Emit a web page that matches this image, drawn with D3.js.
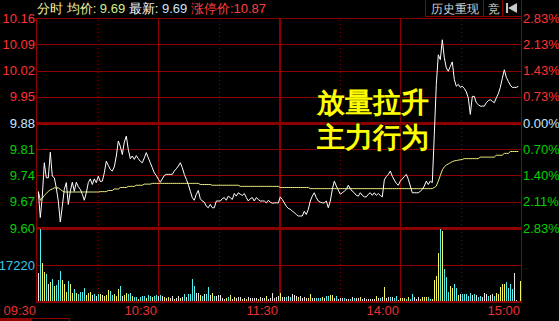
<!DOCTYPE html>
<html><head><meta charset="utf-8">
<script src="https://cdn.jsdelivr.net/npm/d3@7/dist/d3.min.js"></script>
<style>
html,body{margin:0;padding:0;background:#000;overflow:hidden;}
svg{display:block;}
text{font-family:Arial,"Liberation Sans",sans-serif;}
</style></head><body>
<svg id="c" width="559" height="321"></svg>
<script>
// ---------- data ----------
const priceTicks = [10.16,10.09,10.02,9.95,9.88,9.81,9.74,9.67,9.60];
const priceTickLabels = ["10.16","10.09","10.02","9.95","9.88","9.81","9.74","9.67","9.60"];
const pctTickLabels = ["2.83%","2.13%","1.43%","0.73%","0.00%","0.70%","1.40%","2.11%","2.83%"];
const timeTicks = [0,60,120,180,240];
const timeLabels = ["09:30","10:30","11:30","14:00","15:00"];
const solidMinutes = [60,120,180];
const dottedMinutes = [30,90,150,210];
const volTick = 17220;
const volTickLabel = "17220";
const preClose = 9.88;
const header = {label:"分时", avgLabel:"均价:", avg:"9.69", lastLabel:"最新:", last:"9.69", limitLabel:"涨停价:", limit:"10.87"};
const buttons = ["历史重现","竞"];
const annotation = ["放量拉升","主力行为"];

const prices = [
9.696,9.628,9.685,9.774,9.734,9.734,9.802,9.738,9.734,9.707,
9.672,9.616,9.658,9.703,9.721,9.663,9.698,9.722,9.698,9.722,
9.710,9.703,9.690,9.674,9.694,9.721,9.731,9.716,9.731,9.721,
9.738,9.724,9.725,9.747,9.778,9.767,9.756,9.752,9.763,9.792,
9.832,9.818,9.796,9.829,9.845,9.809,9.785,9.792,9.783,9.793,
9.785,9.778,9.774,9.787,9.801,9.787,9.774,9.761,9.747,9.740,
9.730,9.722,9.731,9.740,9.743,9.743,9.743,9.743,9.752,9.758,
9.765,9.774,9.761,9.743,9.730,9.716,9.698,9.681,9.674,9.690,
9.700,9.678,9.672,9.669,9.658,9.654,9.663,9.654,9.654,9.672,
9.672,9.672,9.678,9.681,9.674,9.685,9.681,9.676,9.692,9.685,
9.694,9.690,9.687,9.692,9.681,9.672,9.678,9.681,9.672,9.681,
9.676,9.672,9.672,9.672,9.667,9.674,9.669,9.666,9.667,9.667,
9.667,9.683,9.676,9.667,9.658,9.652,9.650,9.645,9.641,9.636,
9.632,9.632,9.632,9.645,9.636,9.650,9.672,9.685,9.694,9.681,
9.672,9.669,9.667,9.667,9.672,9.654,9.672,9.703,9.725,9.712,
9.701,9.690,9.694,9.698,9.703,9.714,9.705,9.698,9.694,9.687,
9.685,9.694,9.687,9.683,9.683,9.690,9.694,9.687,9.694,9.687,
9.692,9.687,9.683,9.728,9.737,9.743,9.752,9.738,9.728,9.719,
9.714,9.725,9.731,9.737,9.743,9.730,9.712,9.694,9.694,9.694,
9.694,9.698,9.703,9.712,9.725,9.716,9.725,9.721,9.849,9.983,
10.062,10.049,10.102,10.054,10.027,10.018,10.031,10.043,9.996,9.978,
9.983,9.975,9.978,9.972,9.963,9.947,9.903,9.951,9.951,9.934,
9.929,9.925,9.925,9.925,9.934,9.940,9.942,9.938,9.934,9.947,
9.958,9.975,9.999,10.022,10.002,9.991,9.981,9.975,9.975,9.975,
9.978];

const avgPrices = [
9.698,9.674,9.679,9.687,9.692,9.698,9.702,9.704,9.707,9.707,
9.707,9.703,9.699,9.696,9.696,9.696,9.696,9.696,9.696,9.696,
9.696,9.696,9.696,9.696,9.696,9.696,9.696,9.696,9.696,9.696,
9.696,9.697,9.697,9.697,9.697,9.700,9.700,9.700,9.704,9.704,
9.704,9.708,9.708,9.708,9.708,9.711,9.711,9.711,9.711,9.714,
9.714,9.714,9.714,9.717,9.717,9.717,9.717,9.719,9.719,9.719,
9.719,9.719,9.719,9.719,9.719,9.719,9.719,9.719,9.719,9.719,
9.719,9.719,9.719,9.719,9.719,9.719,9.719,9.719,9.719,9.719,
9.719,9.716,9.716,9.716,9.716,9.716,9.716,9.714,9.714,9.714,
9.714,9.714,9.714,9.714,9.714,9.714,9.714,9.714,9.714,9.714,
9.714,9.711,9.711,9.711,9.711,9.711,9.711,9.711,9.711,9.711,
9.711,9.711,9.711,9.711,9.711,9.711,9.711,9.711,9.711,9.711,
9.711,9.708,9.708,9.708,9.708,9.708,9.708,9.708,9.708,9.708,
9.708,9.708,9.708,9.708,9.708,9.708,9.705,9.705,9.705,9.705,
9.705,9.705,9.705,9.705,9.705,9.705,9.705,9.705,9.705,9.705,
9.705,9.705,9.705,9.705,9.705,9.705,9.705,9.705,9.705,9.705,
9.705,9.705,9.705,9.705,9.705,9.705,9.705,9.705,9.705,9.705,
9.705,9.705,9.705,9.705,9.705,9.705,9.705,9.705,9.705,9.705,
9.705,9.705,9.705,9.705,9.705,9.705,9.705,9.705,9.705,9.705,
9.705,9.705,9.705,9.705,9.705,9.705,9.705,9.705,9.708,9.712,
9.725,9.740,9.755,9.763,9.768,9.771,9.774,9.777,9.779,9.780,
9.781,9.782,9.783,9.785,9.785,9.785,9.785,9.785,9.785,9.785,
9.785,9.789,9.789,9.789,9.789,9.789,9.789,9.789,9.789,9.794,
9.794,9.794,9.794,9.799,9.799,9.799,9.804,9.804,9.804,9.804,
9.804];

const volumes = [
13390,34440,18180,13870,12910,8130,9090,10520,7010,7650,
10040,14350,10040,8130,4300,9570,8130,3830,5740,3830,
3350,4300,4300,6220,2870,3830,4300,2870,3350,2390,
3350,3350,2870,2390,2870,5260,4780,2870,3350,2390,
5740,7170,2390,2870,3830,3350,3830,2390,1910,1910,
960,1910,2390,2390,1430,2870,2390,1910,2390,2870,
2390,2870,2390,1910,1430,1910,1430,2390,960,1430,
2390,1430,1910,3350,1910,3350,3350,10520,7170,3830,
3830,2870,2390,3350,3350,6700,2870,3830,2390,2390,
2870,2870,1430,960,1430,1910,2870,960,1910,1430,
1910,1910,960,1430,960,1910,1430,1430,1430,1430,
960,1910,1430,1430,2390,960,1430,3830,1430,1910,
2390,3830,1910,1910,1910,2390,1910,3350,2870,2390,
1910,2390,1430,1910,1430,1430,3350,1430,1430,1430,
1430,1430,1910,1430,2390,2390,2870,2870,1430,2390,
960,1430,1430,1430,960,960,960,1910,1430,1430,
1430,1910,960,1430,960,960,960,960,960,2390,
1430,1430,1910,6700,1430,1910,1910,1910,1430,2390,
480,1430,1430,1430,960,1910,960,3350,1910,960,
1910,960,1910,1910,1910,1910,960,960,10040,11960,
22960,34440,33480,15310,11480,4300,7170,6220,8130,6220,
2870,3350,3350,3350,3350,2390,3830,2870,3350,2870,
1910,2390,1910,3830,3350,2390,2870,3350,2390,3830,
3350,6700,8130,8130,9090,6220,8130,5740,13390,480,
0,9570];

const volKinds = ("wcyycwycyc"+"ccyyycyycy"+"ccccyyywcw"+"cywyyyccyy"+"ycwyyccycc"+
  "ycccyccycc"+"wcwywywwyw"+"wywcwccccw"+"wycwccwycw"+"wwwwycywyw"+
  "wwywywwwww"+"ywwwywwwww"+"wywwcwcwww"+"ywwwwyywwc"+"ccywccyywc"+
  "wwwcwwcwcw"+"wywwwwwwwy"+"wcwywwcwcc"+"wyyycyccww"+"wyyyyccyyy"+
  "ycycccyycc"+"ywcccccwcw"+"ccwwwcwwcy"+"yyyyccccww"+"wy").split("");

// ---------- styles ----------
const C = {grid:"#8c0000", red:"#ff3232", green:"#00d200", flat:"#c8e6ff", cyan:"#3cc8e6",
  white:"#ffffff", avg:"#f0f078", vw:"#e6e6e6", vy:"#f5f55a", vc:"#50f0f0", time:"#e83030"};

const svg = d3.select("#c");
svg.append("rect").attr("width",559).attr("height",321).attr("fill","#000");

const L = 37, R = 521, T = 18, PB = 228, VB = 301;
const xGrid = d3.scaleLinear().domain([0,240]).range([L,R]);
const xBar = d3.scaleLinear().domain([-0.65,241.35]).range([L,R]);
const yP = d3.scaleLinear().domain([9.60,10.16]).range([PB,T]);
const yV = d3.scaleLinear().domain([0,volTick*2]).range([VB,PB+1]);

const g = svg.append("g").attr("shape-rendering","crispEdges");

// horizontal price gridlines
priceTicks.forEach((p,i)=>{
  const thick = (p===preClose || i===priceTicks.length-1);
  g.append("line").attr("x1",L).attr("x2",R)
    .attr("y1",Math.round(yP(p))+(thick?0:0.5)).attr("y2",Math.round(yP(p))+(thick?0:0.5))
    .attr("stroke",C.grid).attr("stroke-width",thick?3:1);
});
// volume gridline
g.append("line").attr("x1",L).attr("x2",R).attr("y1",Math.round(yV(volTick))+0.5).attr("y2",Math.round(yV(volTick))+0.5)
  .attr("stroke",C.grid);
// bottom axis
g.append("line").attr("x1",L).attr("x2",R).attr("y1",VB+1).attr("y2",VB+1).attr("stroke",C.grid).attr("stroke-width",2);
// vertical lines
solidMinutes.forEach(m=>{
  const x = Math.round(xGrid(m))+0.5;
  g.append("line").attr("x1",x).attr("x2",x).attr("y1",T).attr("y2",VB+2)
   .attr("stroke",C.grid).attr("stroke-width",m===120?2:1);
});
dottedMinutes.forEach(m=>{
  const x = Math.round(xGrid(m))+0.5;
  g.append("line").attr("x1",x).attr("x2",x).attr("y1",T+2).attr("y2",VB)
   .attr("stroke",C.grid).attr("stroke-dasharray","1,3");
});
// frame
g.append("line").attr("x1",L).attr("x2",R).attr("y1",T+0.5).attr("y2",T+0.5).attr("stroke",C.grid);
g.append("line").attr("x1",L-0.5).attr("x2",L-0.5).attr("y1",T).attr("y2",VB+2).attr("stroke",C.grid).attr("stroke-width",1);
g.append("line").attr("x1",R+0.5).attr("x2",R+0.5).attr("y1",0).attr("y2",VB+2).attr("stroke",C.grid);

// buttons top-right
const bx = [425,483,502,521];
g.append("line").attr("x1",bx[0]).attr("x2",R).attr("y1",16.5).attr("y2",16.5).attr("stroke",C.grid);
bx.slice(0,3).forEach(x=>g.append("line").attr("x1",x+0.5).attr("x2",x+0.5).attr("y1",0).attr("y2",17).attr("stroke",C.grid));
svg.append("text").attr("x",(bx[0]+bx[1])/2+1).attr("y",13).attr("text-anchor","middle")
  .attr("fill","#d2d2d2").attr("font-size",12).text(buttons[0]);
svg.append("text").attr("x",(bx[1]+bx[2])/2+1).attr("y",13).attr("text-anchor","middle")
  .attr("fill","#d2d2d2").attr("font-size",12).text(buttons[1]);
// back icon
g.append("rect").attr("x",506).attr("y",3).attr("width",2).attr("height",10).attr("fill","#c8c8c8");
svg.append("path").attr("d","M508,8L517,3L517,13Z").attr("fill","#c8c8c8");

// bottom-left tab
g.append("rect").attr("x",0.5).attr("y",318.5).attr("width",69).attr("height",4).attr("fill","none").attr("stroke",C.grid);
g.append("rect").attr("x",0).attr("y",318).attr("width",32).attr("height",3).attr("fill",C.grid);

// volume bars
const vcol = {w:C.vw, y:C.vy, c:C.vc};
g.selectAll("rect.vol").data(volumes).enter().append("rect").attr("class","vol")
  .attr("x",(d,i)=>Math.round(xBar(i)))
  .attr("width",1)
  .attr("y",d=>Math.round(yV(d)))
  .attr("height",d=>VB-Math.round(yV(d)))
  .attr("fill",(d,i)=>vcol[volKinds[i]]||C.vw);

// avg line
svg.append("path").datum(avgPrices)
  .attr("d",d3.line().x((d,i)=>xBar(i)).y(d=>yP(d)))
  .attr("fill","none").attr("stroke",C.avg).attr("stroke-width",1);
// price line
svg.append("path").datum(prices)
  .attr("d",d3.line().x((d,i)=>xBar(i)).y(d=>yP(d)))
  .attr("fill","none").attr("stroke",C.white).attr("stroke-width",1);

// left axis labels
priceTicks.forEach((p,i)=>{
  const col = p>preClose?C.red:(p<preClose?C.green:C.flat);
  svg.append("text").attr("x",35).attr("y",yP(p)+4.5).attr("text-anchor","end")
    .attr("font-size",13).attr("fill",col).text(priceTickLabels[i]);
  svg.append("text").attr("x",523).attr("y",yP(p)+4.5).attr("text-anchor","start")
    .attr("font-size",13).attr("fill",col).text(pctTickLabels[i]);
});
svg.append("text").attr("x",35).attr("y",yV(volTick)+4.5).attr("text-anchor","end")
  .attr("font-size",13).attr("fill",C.cyan).text(volTickLabel);

// time labels
timeTicks.forEach((m,i)=>{
  svg.append("text").attr("x",xGrid(m)-1).attr("y",315).attr("text-anchor","end")
    .attr("font-size",13).attr("fill",C.time).text(timeLabels[i]);
});

// header
const h = svg.append("text").attr("x",37).attr("y",13).attr("font-size",13);
h.append("tspan").attr("fill","#f0f0a0").text(header.label+" ");
h.append("tspan").attr("fill","#f0f0a0").text(header.avgLabel+" ");
h.append("tspan").attr("fill","#d2f08c").text(header.avg+" ");
h.append("tspan").attr("fill","#ffffff").text(header.lastLabel+" ");
h.append("tspan").attr("fill","#c8e6ff").text(header.last+" ");
h.append("tspan").attr("fill","#ff4040").text(header.limitLabel+header.limit);

// annotation
annotation.forEach((t,i)=>{
  svg.append("text").attr("x",317).attr("y",112+i*35).attr("font-size",28).attr("font-weight","bold")
    .attr("font-family","'Noto Sans CJK SC',sans-serif")
    .attr("fill","#ffff00").attr("stroke","#000").attr("stroke-width",1.5).attr("paint-order","stroke")
    .text(t);
});
</script>
</body></html>
